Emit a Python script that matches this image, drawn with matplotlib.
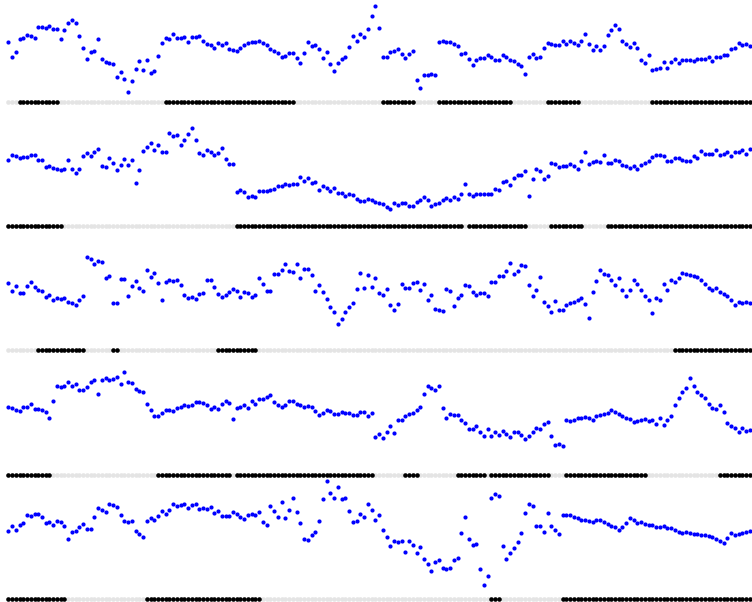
import numpy as np
import matplotlib
matplotlib.use("Agg")
import matplotlib.pyplot as plt

# Five stacked traces (screen-depth units: larger = lower)
trace_1 = [
    42.3, 56.7, 52.3, 38.7, 37.7, 35.3, 35.7, 37.7, 26.7, 27.3,
    28, 25.7, 29, 28.7, 39.3, 30, 22.7, 19.7, 22.7, 35.7,
    47.7, 58.7, 52.3, 50.7, 39, 58.7, 62.3, 63.3, 64.3, 77.3,
    71.7, 79, 92.3, 80.7, 68.7, 60.7, 69.7, 60.3, 72.7, 70.7,
    56.3, 43.3, 38, 38.7, 33.7, 38, 38.3, 37, 41.7, 37.3,
    37.3, 36.3, 41, 44.3, 45.3, 48, 43.3, 45.3, 43.3, 49.3,
    50.3, 51.3, 48, 45.3, 43.3, 42.3, 41.7, 41, 43, 44.7,
    49, 50.7, 53.3, 57, 55.7, 53.3, 53.3, 57.7, 63.3, 53.3,
    41.7, 46, 45.3, 49.3, 58, 51.7, 64.3, 70.7, 63.3, 59.3,
    57, 47, 35.7, 41.3, 34, 37.3, 28.7, 16, 6, 28.3,
    57, 57, 52.3, 51, 48.7, 53.7, 58, 53.7, 51.3, 80.3,
    87.7, 75.3, 74.7, 74, 75.3, 42.3, 41.3, 42.3, 42.3, 44.3,
    46.3, 53.7, 53, 59, 64.7, 60, 58, 57.7, 55.3, 56.7,
    60, 60, 55.3, 57.3, 60, 61, 64.3, 65.7, 74, 56.7,
    54, 58, 56.7, 48.3, 43, 44.3, 44.7, 44.7, 41.3, 43.7,
    41.3, 42.7, 44.7, 40.7, 34, 44.3, 50, 46, 50, 45.7,
    34.7, 30, 24.7, 29.3, 41.3, 43.7, 46.7, 43.3, 48.3, 59.7,
    62.7, 55.3, 70.3, 69, 67.7, 62, 68, 62.3, 58.7, 62.7,
    60.3, 60.3, 60.3, 61, 59, 59.3, 59.3, 57.3, 60.7, 56.7,
    57.3, 55.3, 55, 48.7, 47.7, 43.3, 44.7, 44, 45.7, 43.3,
]
trace_2 = [
    160, 155, 155.7, 157.7, 156.7, 156.7, 155.3, 155, 160.3, 160,
    166.7, 166.3, 167.7, 168.7, 170.3, 168.7, 159.7, 168.7, 172.7, 169.3,
    155.7, 153, 156.3, 152.3, 148.7, 165.7, 167, 157.7, 163.3, 170.3,
    165.3, 158.7, 165.3, 159.7, 182.7, 169.7, 150.7, 147, 143, 150.3,
    145, 152.3, 152.3, 132.7, 136, 135.3, 144.7, 140, 133.7, 128,
    139.7, 153.3, 154.7, 150, 152.3, 155, 152.7, 147.7, 159, 164.3,
    164.3, 192.3, 190, 192, 196.7, 195.7, 196.7, 191, 191, 191.3,
    189.7, 189, 186, 186, 184.3, 185, 183.7, 183.7, 177, 180.7,
    178.3, 182.7, 181.7, 189.7, 186, 187.7, 191.3, 188, 193.3, 193.3,
    196, 194.3, 195.3, 198.7, 201, 200.7, 198.7, 199.7, 202.3, 203.3,
    204.3, 207, 209, 203.3, 205, 202.7, 203.3, 206.3, 206.3, 202.3,
    199.7, 197, 200.3, 205.7, 204.3, 203.3, 199.7, 198, 200.3, 197,
    198.7, 194, 183.7, 194.3, 196, 194, 193.7, 194, 194.3, 194,
    189.3, 190.3, 181.7, 181, 185.3, 178, 175.3, 175, 170.7, 196.3,
    179.3, 168.7, 171.3, 179, 176.3, 163.3, 163.7, 167, 165.7, 165.7,
    164.3, 165.7, 169, 161.3, 151.7, 163.7, 162.3, 161, 162, 155.3,
    162.7, 162.7, 160, 161.3, 165.3, 166.3, 168, 166.3, 169, 164.7,
    163, 160.7, 157.3, 155.3, 155.3, 156.3, 160.7, 160.7, 158, 158.3,
    160, 160.7, 161.3, 155.7, 158.3, 151, 154, 154, 154, 150.3,
    155.3, 153.7, 152.3, 156.3, 151.7, 152, 150, 154.3, 149.3, 149.7,
]
trace_3 = [
    282.7, 290.7, 286, 293, 292.7, 286, 282, 287.3, 289.7, 291.3,
    296.7, 295.3, 300, 298, 299.3, 297.7, 301.7, 302.7, 305.3, 299.7,
    296.3, 256.7, 259, 264, 261, 262, 278, 276, 303.3, 303.3,
    278.7, 278.7, 296, 285.7, 281.3, 287.7, 291.3, 270, 277.3, 273.3,
    283, 300.3, 282.3, 279.7, 281.3, 280, 285.3, 295.3, 298.3, 297.3,
    299.3, 293.7, 292.7, 280.3, 280.3, 286.7, 294, 296.7, 295, 292.3,
    289, 291.3, 296.7, 292.3, 293.3, 297.3, 295.3, 277.7, 284.3, 290.7,
    290.7, 274.3, 273.7, 270.3, 264, 271, 271.7, 263.7, 278, 269.3,
    269, 274.7, 290.7, 285, 291.7, 299, 306.7, 312, 323.7, 319,
    312, 306.7, 303, 289.3, 273.3, 288.3, 275.3, 287, 278.3, 293.3,
    295.3, 289.3, 305, 309.7, 304, 284.3, 288.3, 288.3, 282.7, 282.3,
    290, 284.3, 300.3, 295.3, 309, 310.3, 311, 289, 291, 306.3,
    298.3, 295.3, 284.7, 286.3, 292.3, 295.3, 293, 293, 296, 282.3,
    282, 276, 276, 271, 263, 273.7, 271, 265.3, 266.3, 285,
    296, 290.3, 276.7, 302.3, 306.3, 312.3, 301, 310.3, 310.3, 305,
    303, 302, 300, 298, 304, 318, 292, 281, 270, 274,
    275, 280, 285, 278, 290, 296, 290, 280, 284, 290,
    296, 300, 313, 298, 300, 284, 290, 280, 282, 278,
    273, 274, 275, 276, 277, 280, 284, 288, 290, 288,
    292, 294, 296, 300, 305, 302, 303, 302, 303, 302,
]
trace_4 = [
    406.7, 407.7, 410, 411.3, 407.3, 407.3, 404.3, 409.3, 408.7, 410.3,
    411.7, 418.3, 400.7, 386, 387, 385.7, 382, 386.3, 384.3, 390.3,
    390, 387.3, 382.3, 380.3, 393.7, 380.3, 377.7, 380, 378.7, 377.3,
    384, 372.3, 382, 383.3, 388.7, 390.7, 392.3, 404.3, 409.7, 416,
    416, 413.3, 410, 410, 411, 408.3, 407, 405, 406, 404.7,
    401.7, 401.7, 402.7, 405, 409, 407.3, 408.7, 404, 401.3, 403.3,
    419.3, 407.7, 407.3, 405.3, 407.7, 401.3, 404.3, 399, 399, 397.3,
    395, 401.7, 405.3, 407.3, 404.7, 400.7, 401.3, 404, 405.3, 407,
    406, 407.3, 410.7, 415, 413, 410, 411.3, 414.3, 414, 412.3,
    413, 413, 415, 414.7, 411.7, 411.7, 415.7, 413, 436.7, 433.7,
    438, 432.3, 426.3, 432.7, 420.3, 420.3, 416, 413.7, 413.3, 410.3,
    407.3, 394, 386, 388, 390.3, 386.3, 408.3, 418, 413.7, 415.3,
    415.3, 420, 422.7, 429, 428.7, 426.3, 431.7, 435.7, 429.3, 436,
    432, 435, 431, 434, 437.3, 432.3, 432.3, 434.7, 438.7, 436,
    431.7, 428.3, 428.7, 424.3, 422.3, 436.3, 445.3, 444, 446.3, 420,
    421, 420, 418, 418, 417, 418, 420, 416, 415, 414,
    413, 410, 412, 414, 416, 418, 419, 422, 421, 420,
    419, 421, 420, 424, 418, 425, 420, 416, 405, 398,
    392, 388, 378, 386, 392, 395, 398, 404, 408, 409,
    405, 412, 423, 426, 428, 432, 428, 431, 430, 435,
]
trace_5 = [
    530.7, 525.7, 530, 525, 522.7, 514.7, 516.3, 514.3, 514, 516.7,
    523.3, 522.3, 524.7, 521.3, 522.3, 526, 538.7, 532, 530.7, 527,
    524, 529, 528.7, 516.7, 508.3, 510, 512.3, 504, 504.7, 506.7,
    515.3, 520.7, 522.3, 521.3, 530.7, 534, 536.7, 520.7, 518, 519.7,
    516.3, 511.3, 514, 509.7, 504, 506, 504.7, 503.7, 507.7, 505.3,
    504.3, 509, 508.3, 509.3, 506.7, 513.3, 511.3, 516.3, 516.3, 515.7,
    512, 513.7, 517.3, 518.7, 515, 514, 515.3, 512, 522.3, 525.3,
    506, 510.7, 517.3, 501.7, 518.3, 510.3, 497.7, 511.7, 523.3, 539.3,
    540.3, 534.7, 532, 520.7, 499, 481, 492.7, 498.3, 487.3, 498.7,
    497.7, 510.7, 521.7, 521.3, 513.7, 516.7, 503.7, 509.7, 520, 514.7,
    530.3, 537, 546, 540.7, 541.7, 540.7, 551.7, 541, 544.7, 552.7,
    547.3, 559, 564.3, 570.7, 561.7, 560, 567.7, 569, 567.7, 559.7,
    557.7, 533, 517.3, 539.3, 545, 544, 569.3, 584.7, 576, 498.3,
    494, 496.3, 546.3, 558.7, 553.3, 547.7, 542, 532.7, 513, 504.3,
    506, 526.3, 526.3, 532.3, 513.3, 526, 530, 533.7, 515, 515,
    515, 517, 518, 520, 520, 521, 522, 520, 520, 522,
    524, 526, 527, 530, 527, 523, 518, 520, 523, 522,
    524, 525, 525, 527, 527, 526, 528, 528, 530, 532,
    533, 532, 533, 534, 534, 535, 535, 536, 537, 539,
    541, 543, 538, 533, 535, 534, 533, 532, 531, 530,
]

# runs of "on" samples in the state strip under each trace (inclusive index ranges)
state_runs_1 = [(3, 13), (42, 76), (100, 108), (115, 134), (144, 152), (172, 199)]
state_runs_2 = [(0, 14), (61, 121), (123, 138), (145, 153), (160, 199)]
state_runs_3 = [(8, 20), (28, 29), (56, 66), (178, 199)]
state_runs_4 = [(0, 11), (40, 59), (61, 97), (106, 109), (120, 127), (129, 144),
                (149, 170), (190, 199)]
state_runs_5 = [(0, 15), (37, 67), (129, 131), (148, 199)]

# level where each state strip sits
strip_levels = [101.7, 226, 350.3, 475, 599]

traces = [trace_1, trace_2, trace_3, trace_4, trace_5]
runs = [state_runs_1, state_runs_2, state_runs_3, state_runs_4, state_runs_5]

W, H = 752, 602
fig = plt.figure(figsize=(W / 100, H / 100), dpi=100)

n = len(trace_1)
x = np.arange(n)
step = 3.745
x0 = 8.3

for vals, rr, lvl in zip(traces, runs, strip_levels):
    top = lvl - 124
    bot = lvl + 3
    ax = fig.add_axes([0, 1 - bot / H, 1, (bot - top) / H])
    ax.set_xlim(-x0 / step, (W - x0) / step)
    ax.set_ylim(bot, top)
    ax.axis("off")

    state = np.zeros(n, dtype=bool)
    for a, b in rr:
        state[a:b + 1] = True

    # state strip: grey = off, black = on
    ax.scatter(x[~state], np.full((~state).sum(), lvl), s=11, c="#e4e4e4",
               linewidths=0, marker="o")
    ax.scatter(x[state], np.full(state.sum(), lvl), s=11, c="black",
               linewidths=0, marker="o")
    ax.scatter(x, vals, s=9, c="#0000ff", linewidths=0, marker="o")

fig.savefig("out.png", dpi=100)
